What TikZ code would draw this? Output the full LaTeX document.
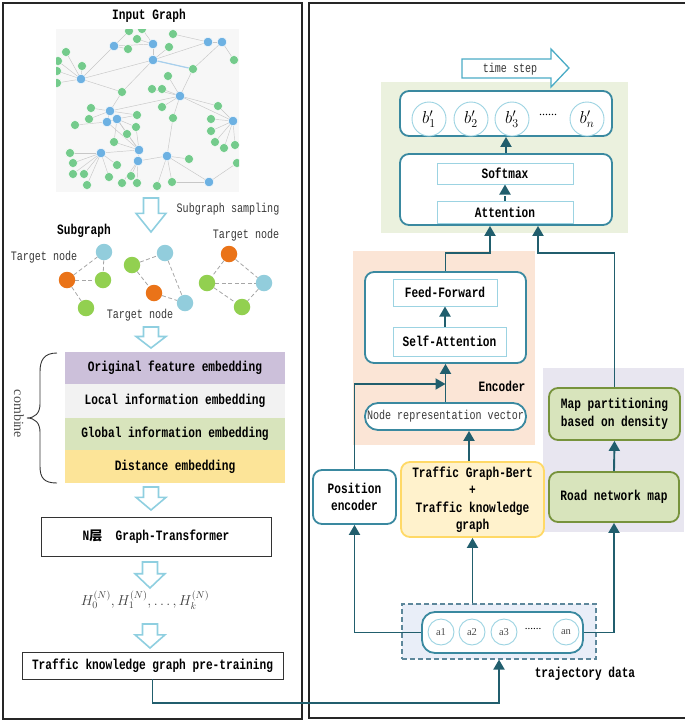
\documentclass[tikz,border=0pt]{standalone}
\usepackage{fontspec}
\setmainfont{Liberation Serif}
\newfontfamily\monof[FakeStretch=0.78]{Liberation Mono}
\newfontfamily\cjkf{Noto Sans CJK SC}
\usetikzlibrary{arrows.meta,calc}

\definecolor{boxc}{HTML}{3A89A0}
\definecolor{arrc}{HTML}{215E6D}
\definecolor{lightc}{HTML}{9CD3E2}
\definecolor{hollowc}{HTML}{8FCFE0}
\definecolor{gnode}{HTML}{74CB8C}
\definecolor{bnode}{HTML}{6DB1E2}
\definecolor{sorange}{HTML}{EA7318}
\definecolor{sgreen}{HTML}{92D050}
\definecolor{sblue}{HTML}{92CDDC}
\definecolor{embpurple}{RGB}{204,192,218}
\definecolor{embgreen}{RGB}{216,228,188}
\definecolor{embyellow}{RGB}{252,228,152}
\definecolor{bggreen}{RGB}{235,241,222}
\definecolor{bgorange}{RGB}{251,229,214}
\definecolor{bgpurple}{RGB}{232,230,240}
\definecolor{tsarrow}{RGB}{75,172,198}
\definecolor{olive}{RGB}{119,147,60}
\definecolor{ylwline}{RGB}{255,217,102}
\definecolor{ylwfill}{RGB}{255,242,204}
\definecolor{trajline}{RGB}{93,135,155}
\definecolor{trajfill}{RGB}{233,238,248}

% hollow downward block arrow: centre x, top y, tip y
\newcommand\hdown[3]{%
  \pgfmathsetmacro\hmid{#2+0.45*(#3-#2)}%
  \draw[hollow] ({#1-7.5},#2) -- ({#1+7.5},#2) -- ({#1+7.5},\hmid) -- ({#1+15},\hmid)
    -- (#1,#3) -- ({#1-15},\hmid) -- ({#1-7.5},\hmid) -- cycle;}

\tikzset{
  bold/.style={font=\monof\bfseries\fontsize{14.3}{17.5}\selectfont, text=black, align=center},
  plain/.style={font=\monof\fontsize{12.9}{14}\selectfont, text=black!78},
  rbox/.style={draw=boxc, line width=1.8pt, rounded corners=9pt, fill=white, inner sep=0pt},
  ibox/.style={draw=lightc, line width=1pt, fill=white, inner sep=0pt},
  arr/.style={draw=arrc, line width=1.9pt, -{Triangle[width=11pt,length=10pt]}},
  hollow/.style={draw=hollowc, line width=1.6pt, fill=white, line join=miter},
  emb/.style={minimum width=220pt, inner sep=0pt, bold},
  gn/.style={circle, fill=gnode, draw=white, line width=0.4pt, minimum size=9pt, inner sep=0pt},
  bn/.style={circle, fill=bnode, draw=white, line width=0.4pt, minimum size=9.5pt, inner sep=0pt},
  sn/.style={circle, minimum size=16.5pt, inner sep=0pt},
  sedge/.style={draw=black!35, dashed, dash pattern=on 4pt off 2.5pt, line width=0.8pt},
  circ/.style={circle, draw=lightc, line width=0.9pt, fill=white, inner sep=0pt},
  greenbox/.style={draw=olive, fill=embgreen, line width=1.8pt, rounded corners=9pt, inner sep=0pt, bold},
}

\begin{document}
\begin{tikzpicture}[x=1pt,y=-1pt]
\useasboundingbox (0,0) rectangle (685,721);

% ---------------- panels ----------------
\draw[black!85, line width=1.6pt] (3,3) rectangle (302,719);
\draw[black!85, line width=1.6pt] (309,3) rectangle (692,718);

% ---------------- input graph ----------------
\node[bold] (title) at (149,16) {Input Graph};
\fill[black!3] (56,29) rectangle (239,192);
\begin{scope}
\clip (56,29) rectangle (239,192);
\foreach \n/\x/\y in {b1/114/46,b2/153/44,b3/208/42,b4/222/42,b5/153/60,b6/81/79,b7/180/96,
  b8/110/111,b9/107/122,b10/117/119,b11/233/121,b12/101/153,b13/139/150,b14/138/161,b15/167/156,b16/209/182}
  \coordinate (\n) at (\x,\y);
\foreach \n/\x/\y in {g1/129/31,g2/142/29,g3/173/34,g4/137/39,g5/128/49,g6/169/47,g7/66/52,g8/58/61,
  g9/234/60,g10/82/66,g11/193/69,g12/168/76,g13/57/71,g14/57/83,g15/122/92,g16/152/89,g17/162/89,
  g18/162/107,g19/173/118,g20/91/108,g21/89/119,g22/75/125,g23/137/115,g24/136/127,g25/127/134,
  g26/114/142,g27/218/106,g28/211/119,g29/211/131,g30/215/142,g31/224/148,g32/235/145,g33/70/153,
  g34/73/163,g35/73/174,g36/84/174,g37/87/185,g38/117/165,g39/109/177,g40/122/183,g41/131/176,
  g42/137/183,g43/157/186,g44/172/182,g45/189/159,g46/237/163}
  \coordinate (\n) at (\x,\y);
\foreach \a/\b in {b1/g1,b1/g5,b1/b2,b2/g4,b2/b5,b5/g6,b5/g11,b5/b3,b3/g3,b3/b4,b4/g9,b4/g11,g11/b7,
  b7/g17,b7/g16,b7/g18,b7/g19,b6/g7,b6/g8,b6/g10,b6/g13,b6/g14,b6/b1,b8/g15,b8/g20,b8/g21,b9/g22,
  b10/g23,b10/g24,b10/g25,b10/g26,b9/b13,b10/b13,b13/g24,b13/g25,b13/b14,b12/g33,b12/g34,b12/g35,
  b12/g36,b12/g37,b12/g38,b12/b13,b14/g41,b14/g42,b14/g40,b14/b15,b15/g43,b15/g44,b15/g45,b15/b16,
  b16/g46,b11/g27,b11/g28,b11/g29,b11/g30,b11/g31,b11/g32,b7/b11,b7/b8,g15/b5,g15/b6,b8/b9,b9/b10,
  b8/g23,b12/g39,b13/g26,b15/g19,g27/b7,b16/g44,b6/b5,g12/b7,g2/b2}
  \draw[black!22, line width=0.45pt] (\a) -- (\b);
\draw[bnode!60, line width=1.2pt] (b5) -- (g11);
\foreach \n in {g1,g2,g3,g4,g5,g6,g7,g8,g9,g10,g11,g12,g13,g14,g15,g16,g17,g18,g19,g20,g21,g22,g23,
  g24,g25,g26,g27,g28,g29,g30,g31,g32,g33,g34,g35,g36,g37,g38,g39,g40,g41,g42,g43,g44,g45,g46}
  \node[gn] at (\n) {};
\foreach \n in {b1,b2,b3,b4,b5,b6,b7,b8,b9,b10,b11,b12,b13,b14,b15,b16}
  \node[bn] at (\n) {};
\end{scope}

\hdown{151}{198}{232}
\node[plain] (samp) at (228,209) {Subgraph sampling};

% ---------------- sampled subgraphs ----------------
\node[bold] (subg) at (84,231) {Subgraph};
\node[plain] (t1) at (44,257) {Target node};
\node[plain] (t2) at (246,235) {Target node};
\node[plain] (t3) at (140,315) {Target node};

\node[sn] (s1a) at (104,252) {};
\node[sn] (s1b) at (67,280) {};
\node[sn] (s1c) at (103,280) {};
\node[sn] (s1d) at (86,308) {};
\node[sn] (s2a) at (132,265) {};
\node[sn] (s2b) at (165,253) {};
\node[sn] (s2c) at (154,293) {};
\node[sn] (s2d) at (185,303) {};
\node[sn] (s3a) at (229,254) {};
\node[sn] (s3b) at (207,283) {};
\node[sn] (s3c) at (264,283) {};
\node[sn] (s3d) at (242,307) {};
\foreach \a/\b in {s1b/s1a,s1b/s1c,s1a/s1c,s1b/s1d,s2a/s2b,s2a/s2c,s2c/s2d,s2b/s2d,
  s3a/s3b,s3a/s3c,s3b/s3c,s3c/s3d,s3b/s3d}
  \draw[sedge] (\a) -- (\b);
% coloured discs over their dashed links
\foreach \n/\c in {s1a/sblue,s1b/sorange,s1c/sgreen,s1d/sgreen,s2a/sgreen,s2b/sblue,s2c/sorange,
  s2d/sblue,s3a/sorange,s3b/sgreen,s3c/sblue,s3d/sgreen}
  \fill[\c] (\n) circle (8.25pt);

\hdown{151}{327}{348}

% ---------------- embeddings ----------------
\node[emb, fill=embpurple, minimum height=32pt] (e1) at (175,368) {Original feature embedding};
\node[emb, fill=black!5, minimum height=34pt] (e2) at (175,401) {Local information embedding};
\node[emb, fill=embgreen, minimum height=32pt] (e3) at (175,434) {Global information embedding};
\node[emb, fill=embyellow, minimum height=33pt] (e4) at (175,466.5) {Distance embedding};

\draw[black!80, line width=0.9pt] (57,353) .. controls (44,353) and (40,360) .. (40,372) -- (40,404)
  .. controls (40,413) and (35,418) .. (27,418) .. controls (35,418) and (40,423) .. (40,432)
  -- (40,466) .. controls (40,478) and (44,483) .. (57,483);
\node[rotate=-90, font=\fontsize{14}{15}\selectfont, text=black!70] (comb) at (19,414) {combine};

\hdown{151}{487}{510}

\node[draw=black!80, line width=0.9pt, minimum width=230pt, minimum height=39pt, inner sep=0pt, bold] (ntf) at (156,536.5)
  {N{\cjkf\bfseries\fontsize{13}{14}\selectfont 层}\ \ Graph-Transformer};

\hdown{150}{562}{588}
\node[text=black!75, font=\fontsize{14}{16}\selectfont] (hform) at (145,600)
  {$H_0^{(N)}, H_1^{(N)}, \ldots, H_k^{(N)}$};
\hdown{150}{624}{648}

\node[draw=black!80, line width=0.9pt, minimum width=261pt, minimum height=27pt, inner sep=0pt, bold] (pre) at (152.5,665.5)
  {Traffic knowledge graph pre-training};

% ---------------- right panel: backgrounds ----------------
\fill[bggreen] (381,82) rectangle (628,233);
\fill[bgorange] (353,251) rectangle (535,445);
\fill[bgpurple] (543,368) rectangle (684,532);

% time step arrow
\draw[draw=tsarrow, line width=1.3pt, fill=white, line join=miter]
  (462,59) -- (551,59) -- (551,49) -- (569,68) -- (551,87) -- (551,78) -- (462,78) -- cycle;
\node[plain] (tstep) at (510,69) {time step};

% output sequence
\node[rbox, minimum width=212pt, minimum height=45pt] (bbox) at (506,113.5) {};
\foreach \n/\x/\t in {c1/429/1, c2/471/2, c3/512/3, cn/587/n}
  \node[circ, minimum size=34pt, font=\fontsize{18}{20}\selectfont] (\n) at (\x,119) {$b_{\t}'$};
\node[font=\fontsize{12}{14}\selectfont] (bdots) at (548,115) {......};

% attention block
\node[rbox, minimum width=212pt, minimum height=71pt] (smbox) at (506,189.5) {};
\node[ibox, minimum width=136pt, minimum height=21pt, bold] (soft) at (505,173.5) {Softmax};
\node[ibox, minimum width=136pt, minimum height=22pt, bold] (att) at (505,212) {Attention};

% encoder
\node[rbox, minimum width=161pt, minimum height=91pt] (enc) at (445.5,317.5) {};
\node[ibox, minimum width=104pt, minimum height=27pt, bold] (ff) at (445,292.5) {Feed-Forward};
\node[ibox, minimum width=113pt, minimum height=29pt, bold] (sa) at (449.5,341.5) {Self-Attention};
\node[bold] (enclbl) at (502,386) {Encoder};
\node[draw=boxc, line width=1.8pt, rounded corners=13pt, fill=white, minimum width=161pt, minimum height=27pt,
  inner sep=0pt, plain] (nrv) at (445.5,416.5) {Node representation vector};

% map side
\node[greenbox, minimum width=131pt, minimum height=52pt] (map) at (614.5,414)
  {Map partitioning\\based on density};
\node[greenbox, minimum width=130pt, minimum height=50pt] (road) at (614,497)
  {Road network map};

% inputs
\node[rbox, minimum width=83pt, minimum height=54pt, bold] (pos) at (354.5,497) {Position\\encoder};
\node[draw=ylwline, fill=ylwfill, line width=1.8pt,
  rounded corners=9pt, minimum width=143pt, minimum height=75pt, inner sep=0pt, bold] (bert) at (472.5,499.5)
  {Traffic Graph-Bert\\+\\Traffic knowledge\\graph};

% trajectory data
\node[draw=trajline, dashed, dash pattern=on 5pt off 3pt, line width=1.1pt,
  fill=trajfill, minimum width=194pt, minimum height=55pt, inner sep=0pt] (traj) at (499,631.5) {};
\node[rbox, rounded corners=13pt, minimum width=161pt, minimum height=41pt] (pill) at (502.5,632.5) {};
\foreach \n/\x/\t in {a1/441/a1, a2/472/a2, a3/504/a3, an/566/an}
  \node[circ, minimum size=26pt, font=\fontsize{10.5}{12}\selectfont, text=black!70] (\n) at (\x,632) {\t};
\node[font=\fontsize{11}{12}\selectfont] (adots) at (533,629) {......};
\node[bold] (trajlbl) at (585,674) {trajectory data};

% ---------------- connectors ----------------
\coordinate (kb) at (469,0);
\coordinate (pj) at (445.5,384);
\coordinate (ja) at (490,253);
\coordinate (jb) at (538,253);
\coordinate (jc) at (499,703);

\draw[arr] (smbox.north) -- (bbox.south);
\draw[arr, dashed, dash pattern=on 5pt off 3pt] (att.north) -- (soft.south);
\draw[arr] (ff.south |- sa.north) -- (ff.south);
\draw[arr] (nrv.north) -- (enc.south);
\draw[arr] (pos.north) |- (pj);
\draw[arr] (enc.north) |- (ja) -- (ja |- smbox.south);
\draw[arr] (map.north) |- (jb) -- (jb |- smbox.south);
\draw[arr] (road.north) -- (map.south);
\draw[arr] (bert.north -| kb) -- (nrv.south -| kb);
\draw[arr] (pill.west) -| (pos.south);
\draw[arr] (traj.north -| bert.south) -- (bert.south);
\draw[arr] (pill.east) -| (road.south);
\draw[arr] (pre.south) |- (jc) -- (traj.south);
\end{tikzpicture}
\end{document}
